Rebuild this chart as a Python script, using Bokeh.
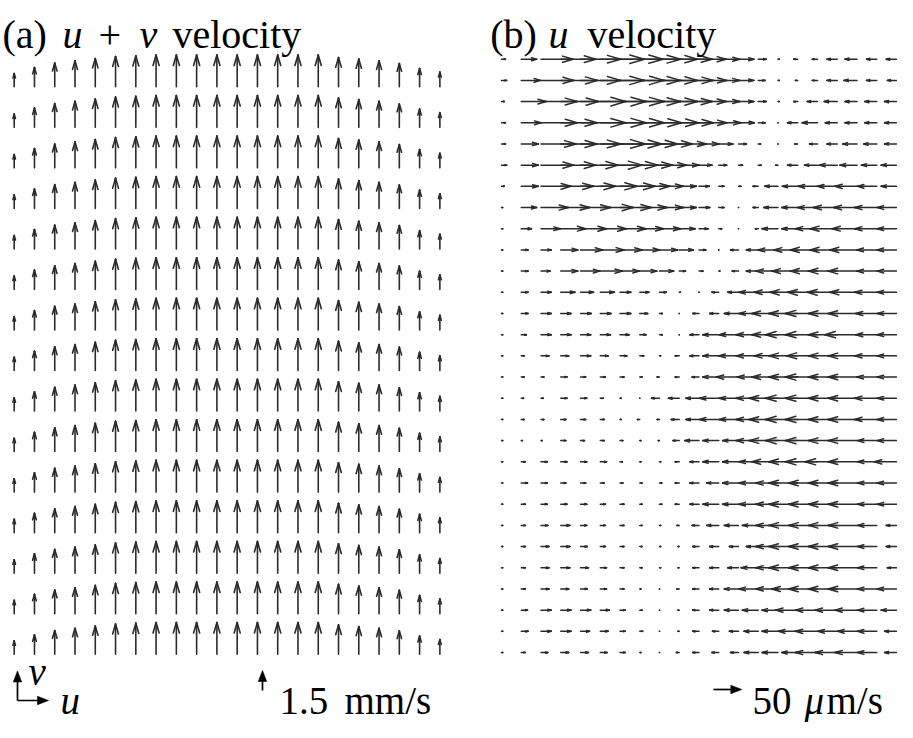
from bokeh.plotting import figure
from bokeh.models import Range1d, ColumnDataSource, Label
from bokeh.embed import file_html
from bokeh.resources import INLINE

# ---------------- data ----------------
# panel (a): vertical velocity v (mm/s) per column, 22 columns, same in all 15 rows
a_columns = list(range(22))
a_rows = list(range(15))
a_v_mm_s = [1.00, 1.45, 1.78, 1.95, 2.12, 2.27, 2.33, 2.38, 2.38, 2.38, 2.38,
            2.38, 2.38, 2.38, 2.38, 2.38, 2.20, 2.08, 1.95, 1.75, 1.37, 1.10]

# panel (b): horizontal velocity u (um/s), 29 rows (top->bottom) x 21 columns (left->right)
b_u_um_s = [
    [7, 27, 57, 62, 71, 78, 76, 72, 67, 58, 48, 37, 27, 14, 2, -7, -9, -18, -21, -18, -18],
    [9, 34, 58, 65, 71, 78, 78, 72, 67, 60, 49, 37, 27, 12, 2, -4, -9, -18, -23, -18, -16],
    [5, 44, 64, 67, 80, 81, 78, 72, 67, 58, 48, 37, 27, 14, 2, -7, -18, -23, -21, -21, -21],
    [7, 35, 64, 64, 80, 81, 78, 74, 69, 60, 49, 39, 28, 12, 0, -18, -27, -21, -21, -21, -21],
    [7, 30, 62, 64, 71, 80, 74, 67, 58, 48, 35, 25, 14, 4, 0, -5, -14, -18, -25, -23, -21],
    [9, 30, 58, 62, 67, 74, 67, 58, 48, 35, 23, 14, 7, 5, -4, -18, -23, -32, -30, -27, -27],
    [5, 30, 53, 58, 62, 65, 62, 53, 42, 30, 18, 9, 4, -9, -23, -27, -34, -35, -39, -34, -27],
    [2, 27, 48, 51, 53, 58, 55, 48, 42, 30, 19, 9, 0, -9, -25, -28, -35, -42, -41, -39, -34],
    [2, 18, 34, 44, 46, 46, 46, 42, 37, 28, 16, 5, 0, -5, -28, -28, -39, -48, -44, -39, -34],
    [2, 12, 18, 30, 39, 42, 39, 35, 32, 25, 12, 0, -14, -21, -35, -42, -48, -48, -48, -35, -34],
    [2, 12, 16, 30, 34, 39, 34, 30, 25, 11, 7, 2, -11, -21, -39, -46, -48, -51, -51, -35, -34],
    [2, 12, 18, 25, 23, 25, 19, 16, 12, 2, 0, -12, -19, -34, -42, -49, -53, -53, -48, -39, -34],
    [2, 12, 18, 18, 19, 19, 19, 14, 5, 0, -11, -16, -25, -34, -46, -51, -57, -51, -51, -37, -34],
    [2, 9, 18, 18, 18, 18, 16, 11, 5, 0, -16, -28, -34, -39, -46, -57, -57, -51, -57, -37, -34],
    [2, 5, 14, 14, 18, 14, 12, 7, 2, -7, -16, -28, -35, -39, -42, -51, -55, -51, -51, -39, -34],
    [2, 5, 5, 11, 9, 9, 7, 4, -4, -7, -12, -28, -39, -37, -46, -51, -57, -51, -51, -35, -34],
    [2, 4, 4, 11, 11, 5, 2, 0, -14, -19, -23, -34, -34, -39, -51, -57, -57, -51, -51, -39, -34],
    [2, 5, 5, 9, 9, 7, 2, -4, -4, -14, -23, -34, -34, -39, -51, -57, -57, -51, -51, -39, -34],
    [2, 2, 2, 9, 7, 7, 5, 2, -2, -11, -25, -28, -28, -39, -51, -57, -57, -51, -51, -34, -34],
    [2, 7, 11, 11, 11, 11, 4, 2, 2, -7, -16, -28, -28, -34, -46, -51, -57, -57, -51, -34, -39],
    [2, 11, 11, 9, 9, 7, 5, 4, 4, -7, -16, -21, -28, -34, -39, -51, -51, -51, -51, -34, -34],
    [2, 7, 11, 11, 11, 9, 7, 4, 4, -7, -16, -28, -28, -34, -39, -51, -51, -51, -51, -34, -34],
    [2, 7, 12, 16, 11, 9, 7, 4, 2, -4, -12, -21, -25, -28, -39, -51, -51, -51, -51, -34, -18],
    [2, 7, 14, 16, 12, 9, 7, 4, 2, -2, -11, -16, -16, -21, -39, -51, -51, -51, -51, -34, -18],
    [2, 7, 14, 16, 14, 11, 7, 4, 2, -2, -11, -16, -19, -30, -39, -51, -51, -51, -51, -34, -16],
    [2, 7, 14, 14, 12, 11, 7, 2, 0, -4, -11, -16, -25, -34, -39, -46, -51, -51, -51, -34, -34],
    [2, 11, 18, 18, 18, 16, 9, 4, 0, -2, -11, -16, -25, -28, -28, -39, -39, -39, -39, -34, -27],
    [2, 12, 18, 18, 16, 14, 9, 5, 0, -2, -11, -11, -16, -25, -28, -34, -39, -34, -34, -34, -21],
    [2, 7, 12, 14, 14, 12, 9, 2, 0, -5, -11, -12, -14, -25, -28, -28, -39, -39, -39, -34, -21],
]

key_a_value = 1.5      # mm/s
key_b_value = 50       # um/s
title_a_parts = ["(a)", "u", "+", "v", "velocity"]
title_b_parts = ["(b)", "u", "velocity"]
key_a_parts = ["1.5", "mm/s"]
key_b_parts = ["50", "μ", "m/s"]
axis_parts = ["v", "u"]

# ---------------- layout (pixels of the canvas) ----------------
W, H = 897, 722
A_X0, A_DX, A_Y0, A_DY, A_SCALE = 13.7, 20.27, 86.3, 40.53, 13.33    # px per mm/s
B_X0, B_DX, B_Y0, B_DY, B_SCALE = 501.0, 19.75, 58.7, 21.19, 0.566   # px per um/s
ARROW_COLOR = "#2b2b2b"
FONT = "Liberation Serif"

p = figure(width=W, height=H, x_range=Range1d(0, W), y_range=Range1d(H, 0),
           x_axis_type=None, y_axis_type=None, output_backend="svg",
           toolbar_location=None, min_border=0)
p.grid.visible = False
p.outline_line_color = None
p.background_fill_color = "white"
p.border_fill_color = "white"


def quiver(tx, ty, dx, dy, alpha=0.33, beta=0.29):
    x0, y0, x1, y1 = [], [], [], []
    for a, b, u, v in zip(tx, ty, dx, dy):
        hx, hy = a + u, b + v
        b1x, b1y = hx - alpha * (u + beta * v), hy - alpha * (v - beta * u)
        b2x, b2y = hx - alpha * (u - beta * v), hy - alpha * (v + beta * u)
        x0 += [a, b1x, b2x]
        y0 += [b, b1y, b2y]
        x1 += [hx, hx, hx]
        y1 += [hy, hy, hy]
    return ColumnDataSource(dict(x0=x0, y0=y0, x1=x1, y1=y1))


# panel (a)
tx, ty, dx, dy = [], [], [], []
for i in a_rows:
    for j in a_columns:
        tx.append(A_X0 + j * A_DX)
        ty.append(A_Y0 + i * A_DY)
        dx.append(0.0)
        dy.append(-a_v_mm_s[j] * A_SCALE)
p.segment("x0", "y0", "x1", "y1", source=quiver(tx, ty, dx, dy),
          line_color=ARROW_COLOR, line_width=1.6, line_cap="round")

# panel (b)
tx, ty, dx, dy = [], [], [], []
for i, rowvals in enumerate(b_u_um_s):
    for j, u in enumerate(rowvals):
        tx.append(B_X0 + j * B_DX)
        ty.append(B_Y0 + i * B_DY)
        dx.append(u * B_SCALE)
        dy.append(0.0)
p.segment("x0", "y0", "x1", "y1", source=quiver(tx, ty, dx, dy),
          line_color=ARROW_COLOR, line_width=1.5, line_cap="round")


def solid_arrow(x0, y0, x1, y1, head=11.0, half=4.2):
    L = ((x1 - x0) ** 2 + (y1 - y0) ** 2) ** 0.5
    ux, uy = (x1 - x0) / L, (y1 - y0) / L
    bx, by = x1 - ux * head, y1 - uy * head
    p.segment([x0], [y0], [bx], [by], line_color="black", line_width=1.7)
    p.patch([x1, bx - uy * half, bx + uy * half], [y1, by + ux * half, by - ux * half],
            fill_color="black", line_color="black", line_width=0.6)


yb = 700.0
# scale keys
solid_arrow(262, yb - 10.0, 262, yb - 10.0 - key_a_value * A_SCALE)
solid_arrow(713, yb - 11.0, 713 + key_b_value * B_SCALE, yb - 11.0)
# u / v direction indicator
solid_arrow(17, yb, 17, yb - 29.5)
solid_arrow(17, yb, 48, yb)


def txt(x, baseline, s, style="normal", size=40):
    p.add_layout(Label(x=x, y=baseline, text=s, text_font=FONT,
                       text_font_size=f"{size}px", text_font_style=style,
                       text_baseline="alphabetic", text_align="left",
                       text_color="black"))


ya = 34.0
txt(2, ya, title_a_parts[0])
txt(62, ya, title_a_parts[1], "italic")
txt(98, ya, title_a_parts[2])
txt(139, ya, title_a_parts[3], "italic")
txt(172, ya, title_a_parts[4])
txt(489.7, ya, title_b_parts[0])
txt(548, ya, title_b_parts[1], "italic")
txt(587, ya, title_b_parts[2])

BS = 39
txt(28, yb - 29.0, axis_parts[0], "italic", BS)
txt(60, yb, axis_parts[1], "italic", BS)
txt(279, yb, key_a_parts[0], size=BS)
txt(344, yb, key_a_parts[1], size=BS)
txt(752, yb, key_b_parts[0], size=BS)
txt(804, yb, key_b_parts[1], "italic", BS)
txt(826, yb, key_b_parts[2], size=BS)

open("out.html", "w").write(file_html(p, INLINE))
